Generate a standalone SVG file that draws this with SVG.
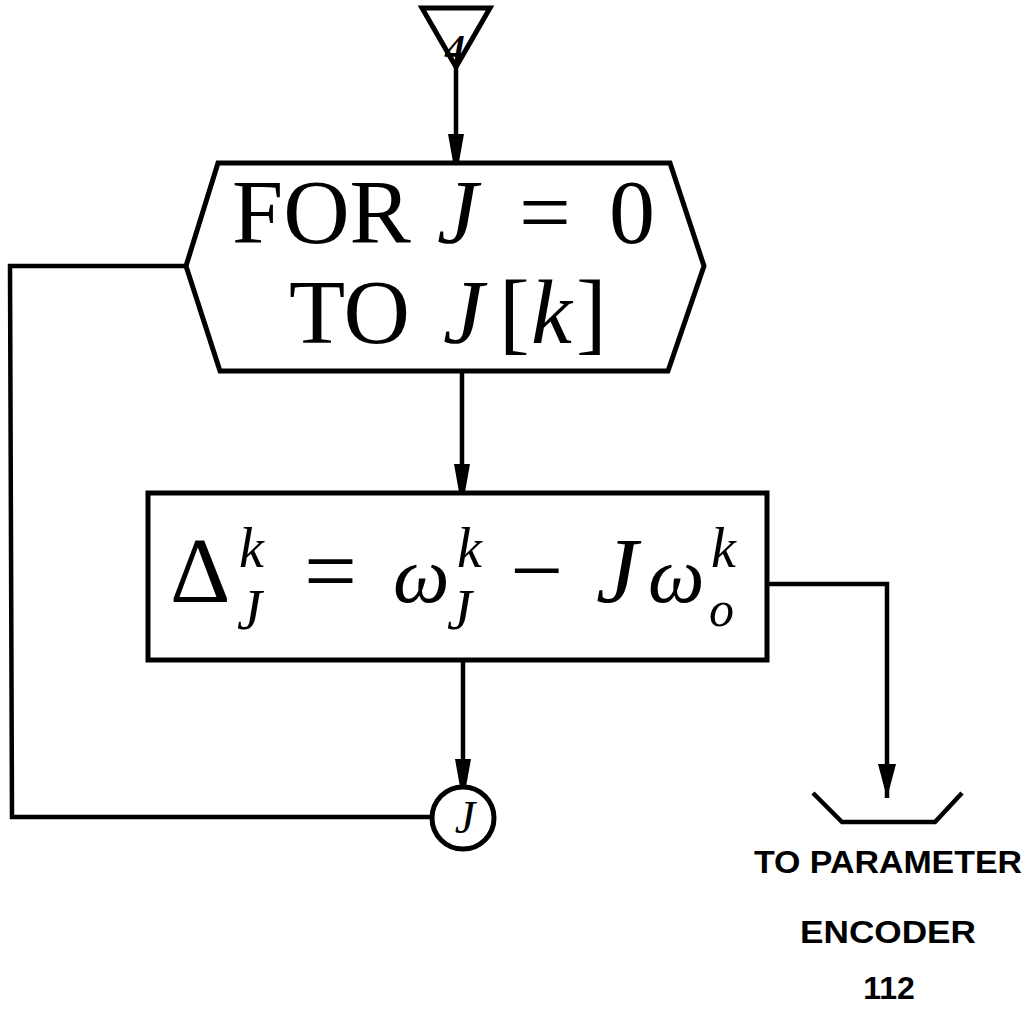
<svg xmlns="http://www.w3.org/2000/svg" width="1033" height="1010" viewBox="0 0 1033 1010">
<style>
.ln{fill:none;stroke:#000;stroke-width:4.5;stroke-linejoin:miter}
.shape{fill:#fff;stroke:#000;stroke-width:5}
.rm{font-family:"Liberation Serif",serif;fill:#000}
.it{font-style:italic}
.up{font-style:normal}
.sans{font-family:"Liberation Sans",Arial,sans-serif;font-weight:bold;fill:#000;font-size:32px;text-anchor:middle}
</style>
<defs>
<marker id="arr" markerWidth="28" markerHeight="16" refX="28" refY="8" orient="auto" markerUnits="userSpaceOnUse" viewBox="0 0 28 16">
<path d="M0,0 L28,5 L28,11 L0,16 Z" fill="#000"/>
</marker>
<marker id="arr2" markerWidth="34" markerHeight="18" refX="34" refY="9" orient="auto" markerUnits="userSpaceOnUse" viewBox="0 0 34 18">
<path d="M0,0 L34,9 L0,18 Z" fill="#000"/>
</marker>
</defs>
<rect width="1033" height="1010" fill="#fff"/>
<g id="connectors">
<line class="ln" x1="456" y1="67" x2="456" y2="162" marker-end="url(#arr)"/>
<line class="ln" x1="462" y1="371" x2="462" y2="492" marker-end="url(#arr)"/>
<line class="ln" x1="463" y1="660" x2="463" y2="787" marker-end="url(#arr)"/>
<polyline class="ln" points="186,266 10,266 12,817 432,817"/>
<polyline class="ln" points="767,584 887,584 887,798" marker-end="url(#arr2)"/>
</g>
<g id="start">
<polygon class="shape" points="422,8 490,8 456,67"/>
<text class="rm it" x="455" y="62" font-size="40" font-weight="bold" text-anchor="middle">4</text>
</g>
<g id="loop">
<polygon class="shape" points="218,163 670,163 704,266 668,371 220,371 186,266"/>
<text class="rm" y="243" font-size="92"><tspan x="232">FOR</tspan><tspan x="437" class="it">J</tspan><tspan x="519">=</tspan><tspan x="609">0</tspan></text>
<text class="rm" y="343" font-size="92"><tspan x="289">TO</tspan><tspan x="443" class="it">J</tspan><tspan x="499">[</tspan><tspan x="531" class="it">k</tspan><tspan x="576">]</tspan></text>
</g>
<g id="compute">
<rect class="shape" x="148" y="493" width="619" height="167"/>
<text class="rm it" font-size="56"><tspan x="170" y="602" font-size="94" class="up">Δ</tspan><tspan x="239" y="567">k</tspan><tspan x="237" y="629">J</tspan><tspan x="304" y="602" font-size="94" class="up">=</tspan><tspan x="393" y="602" font-size="80">ω</tspan><tspan x="457" y="567">k</tspan><tspan x="447" y="629">J</tspan><tspan x="510" y="602" font-size="94" class="up">−</tspan><tspan x="596" y="602" font-size="94">J</tspan><tspan x="648" y="602" font-size="80">ω</tspan><tspan x="711" y="567">k</tspan><tspan x="709" y="626" font-size="50">o</tspan></text>
</g>
<g id="connector-j">
<circle class="shape" cx="463" cy="818" r="31"/>
<text class="rm it" x="465" y="833" font-size="46" text-anchor="middle">J</text>
</g>
<g id="output">
<polyline class="ln" points="813,793 842,822 935,822 962,793"/>
<text class="sans" x="888" y="873" textLength="268" lengthAdjust="spacingAndGlyphs">TO PARAMETER</text>
<text class="sans" x="888" y="943" textLength="176" lengthAdjust="spacingAndGlyphs">ENCODER</text>
<text class="sans" x="889" y="999">112</text>
</g>
</svg>
